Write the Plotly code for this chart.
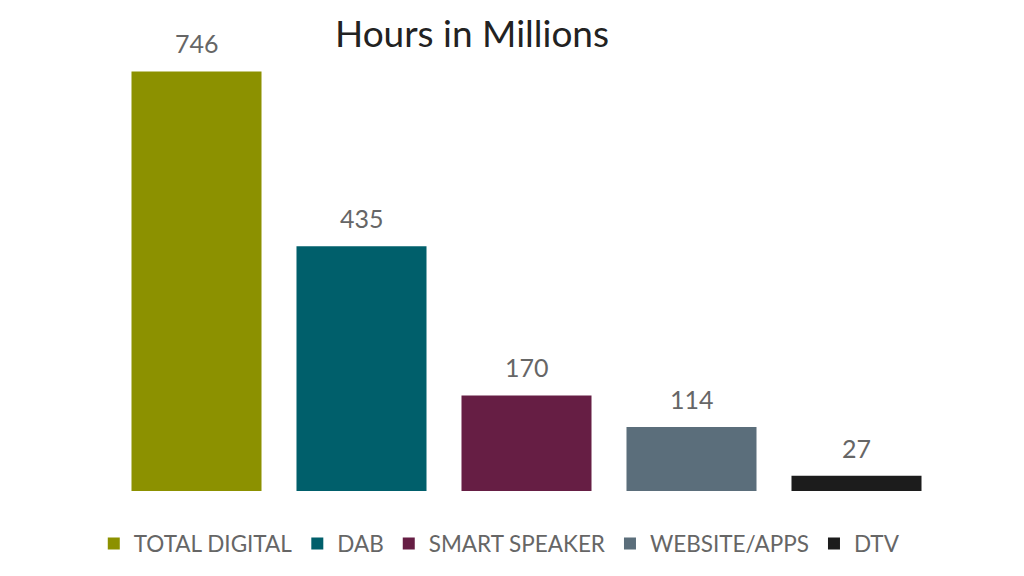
import plotly.graph_objects as go

categories = ["TOTAL DIGITAL", "DAB", "SMART SPEAKER", "WEBSITE/APPS", "DTV"]
values = [746, 435, 170, 114, 27]
colors = ["#8c9100", "#005f6b", "#661e44", "#5b6e7b", "#1c1c1c"]

fig = go.Figure()
for c, v, col in zip(categories, values, colors):
    fig.add_trace(go.Bar(x=[c], y=[v], name=c, marker=dict(color=col, line=dict(width=0)),
                         hoverinfo="skip"))
    fig.add_annotation(x=c, y=v, text=str(v), showarrow=False, yanchor="middle", yshift=28,
                       font=dict(family="Lato", size=25, color="#666666"))

fig.update_layout(
    width=1024, height=576,
    paper_bgcolor="#ffffff", plot_bgcolor="#ffffff",
    barmode="overlay", bargap=0.212,
    margin=dict(l=113.5, r=85, t=41, b=84),
    title=dict(text="Hours in Millions", x=472 / 1024, xanchor="center",
               y=1 - 34 / 576, yanchor="middle", yref="container",
               font=dict(family="Lato", size=37, color="#222222")),
    xaxis=dict(categoryorder="array", categoryarray=categories, showticklabels=False,
               showgrid=False, zeroline=False, showline=False, ticks=""),
    yaxis=dict(range=[0, 800], showticklabels=False, showgrid=False, zeroline=False,
               showline=False, ticks=""),
    legend=dict(orientation="h", x=0.467, xanchor="center", y=-0.115, yanchor="middle",
                font=dict(family="Lato", size=22.5, color="#666666"),
                traceorder="normal", itemwidth=30, bgcolor="rgba(0,0,0,0)"),
    showlegend=True,
)
fig.write_html("out.html")
